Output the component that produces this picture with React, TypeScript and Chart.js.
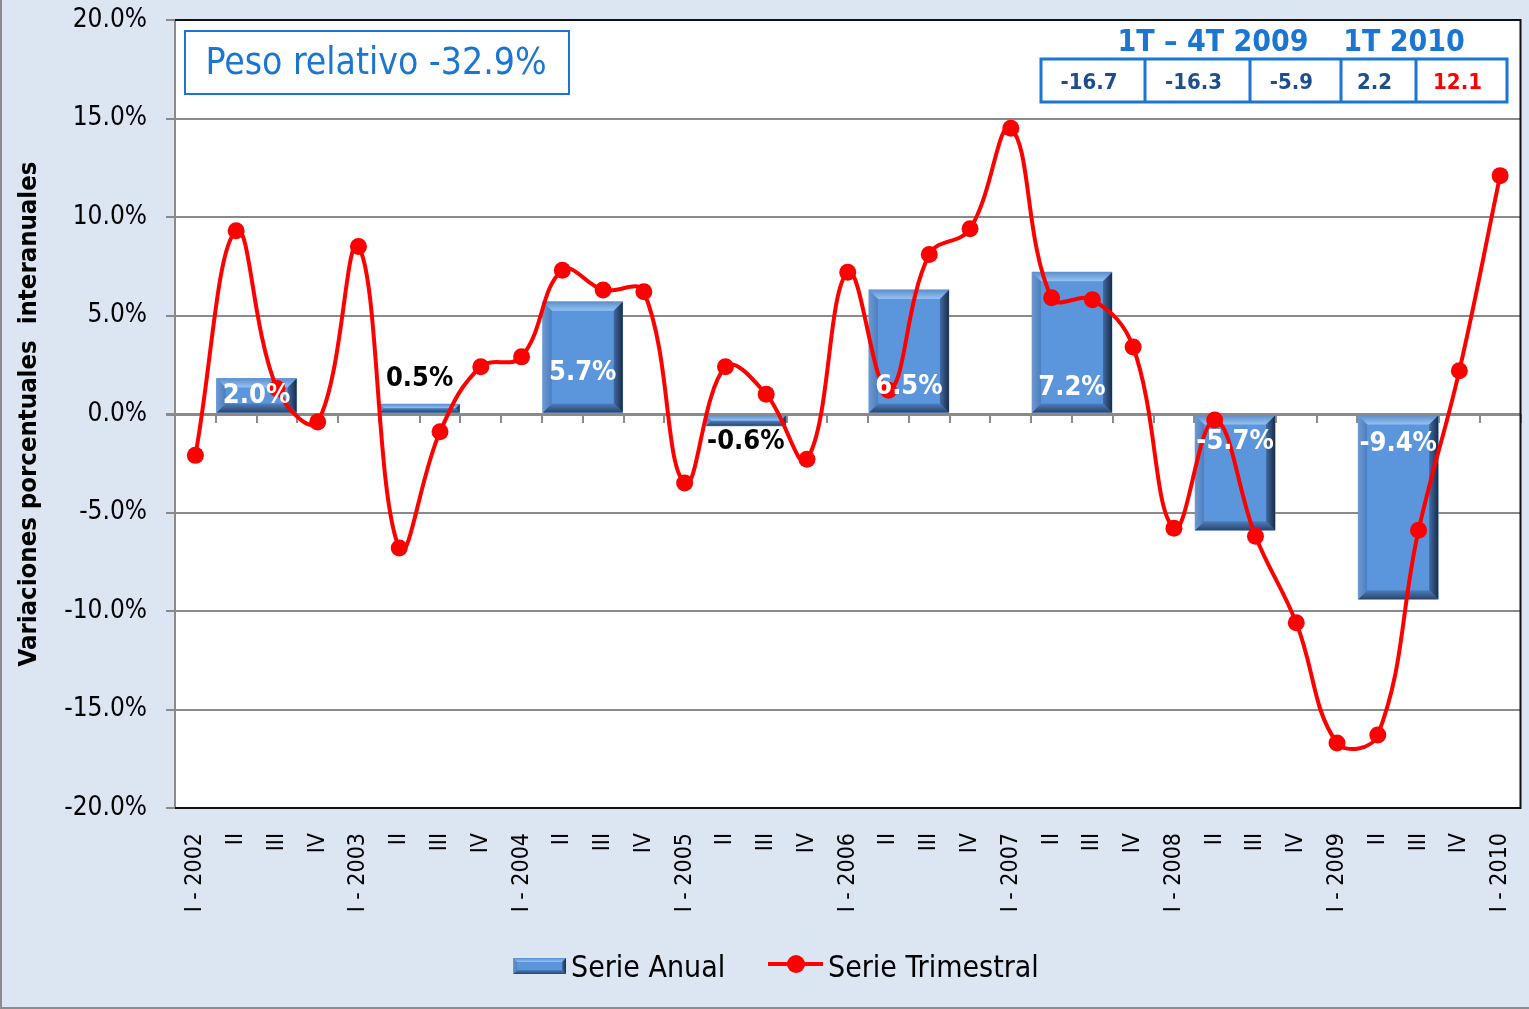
import React, { useEffect, useRef } from 'react';
import { Chart, registerables } from 'chart.js';

Chart.register(...registerables);

const FONT = "'DejaVu Sans Condensed', 'DejaVu Sans', sans-serif";

// ---- data ----
const quarterLabels = [
  'I - 2002', 'II', 'III', 'IV',
  'I - 2003', 'II', 'III', 'IV',
  'I - 2004', 'II', 'III', 'IV',
  'I - 2005', 'II', 'III', 'IV',
  'I - 2006', 'II', 'III', 'IV',
  'I - 2007', 'II', 'III', 'IV',
  'I - 2008', 'II', 'III', 'IV',
  'I - 2009', 'II', 'III', 'IV',
  'I - 2010',
];

const trimestralValues = [
  -2.1, 9.3, 1.3, -0.4,
  8.5, -6.8, -0.9, 2.4,
  2.9, 7.3, 6.3, 6.2,
  -3.5, 2.4, 1.0, -2.3,
  7.2, 1.2, 8.1, 9.4,
  14.5, 5.9, 5.8, 3.4,
  -5.8, -0.3, -6.2, -10.6,
  -16.7, -16.3, -5.9, 2.2,
  12.1,
];

const annualYears = ['2002', '2003', '2004', '2005', '2006', '2007', '2008', '2009'];
const annualValues = [1.8, 0.5, 5.7, -0.6, 6.3, 7.2, -5.9, -9.4];
const annualLabelTexts = ['2.0%', '0.5%', '5.7%', '-0.6%', '6.5%', '7.2%', '-5.7%', '-9.4%'];
// where each bar label sits (in axis units) and whether it is inside the bar
const annualLabelAnchor = [0.9, 1.8, 2.1, -1.4, 1.35, 1.3, -1.4, -1.5];
const annualLabelInside = [true, false, true, false, true, true, true, true];

const yMin = -20;
const yMax = 20;
const yStep = 5;

const pesoRelativoText = 'Peso relativo -32.9%';
const tableHeaders = ['1T – 4T 2009', '1T 2010'];
const tableValues = ['-16.7', '-16.3', '-5.9', '2.2', '12.1'];
const tableValueColors = ['#1d4f8e', '#1d4f8e', '#1d4f8e', '#1d4f8e', '#ff0000'];

const legendLabels = ['Serie Anual', 'Serie Trimestral'];
const yTitle = 'Variaciones porcentuales  interanuales';

// ---- styles ----
const BG = '#dce6f2';
const GRID = '#8a8a8a';
const RED = '#ff0000';
const BLUE_TXT = '#1a76d2';

function fillPoly(ctx: CanvasRenderingContext2D, pts: number[][], style: any) {
  ctx.beginPath();
  ctx.moveTo(pts[0][0], pts[0][1]);
  for (let i = 1; i < pts.length; i++) ctx.lineTo(pts[i][0], pts[i][1]);
  ctx.closePath();
  ctx.fillStyle = style;
  ctx.fill();
}

function drawBevelBar(ctx: CanvasRenderingContext2D, l: number, t: number, r: number, b: number, bev: number) {
  const w = r - l;
  const h = b - t;
  if (w <= 0 || h <= 0) return;
  const e = Math.max(1, Math.min(bev, h / 2, w / 2));
  ctx.fillStyle = '#5b96dc';
  ctx.fillRect(l, t, w, h);
  let g = ctx.createLinearGradient(0, t, 0, t + e);
  g.addColorStop(0, '#5f8fcb');
  g.addColorStop(1, '#93c2f4');
  fillPoly(ctx, [[l, t], [r, t], [r - e, t + e], [l + e, t + e]], g);
  g = ctx.createLinearGradient(0, b, 0, b - e);
  g.addColorStop(0, '#2b4468');
  g.addColorStop(1, '#4d7fc0');
  fillPoly(ctx, [[l, b], [r, b], [r - e, b - e], [l + e, b - e]], g);
  g = ctx.createLinearGradient(l, 0, l + e, 0);
  g.addColorStop(0, '#6f98cc');
  g.addColorStop(1, '#4a7ec2');
  fillPoly(ctx, [[l, t], [l + e, t + e], [l + e, b - e], [l, b]], g);
  g = ctx.createLinearGradient(r, 0, r - e, 0);
  g.addColorStop(0, '#1b2c45');
  g.addColorStop(1, '#3f6ba6');
  fillPoly(ctx, [[r, t], [r - e, t + e], [r - e, b - e], [r, b]], g);
}

const decorPlugin = {
  id: 'decor',
  beforeDraw(chart: any) {
    const { ctx, width, height, chartArea: a } = chart;
    ctx.save();
    ctx.fillStyle = BG;
    ctx.fillRect(0, 0, width, height);
    ctx.fillStyle = '#ffffff';
    ctx.fillRect(a.left, a.top, a.right - a.left, a.bottom - a.top);
    ctx.strokeStyle = '#8c8c8c';
    ctx.lineWidth = 2;
    ctx.beginPath();
    ctx.moveTo(1, 0);
    ctx.lineTo(1, height - 1);
    ctx.lineTo(width, height - 1);
    ctx.stroke();
    ctx.restore();
  },
  afterDatasetDraw(chart: any, args: any) {
    if (args.index !== 0) return;
    const { ctx } = chart;
    ctx.save();
    args.meta.data.forEach((el: any) => {
      const l = el.x - el.width / 2;
      const r = el.x + el.width / 2;
      const t = Math.min(el.y, el.base);
      const b = Math.max(el.y, el.base);
      drawBevelBar(ctx, l, t, r, b, 9);
    });
    ctx.restore();
  },
  afterDatasetsDraw(chart: any) {
    const { ctx } = chart;
    const yScale = chart.scales.y;
    const meta = chart.getDatasetMeta(0);
    ctx.save();
    ctx.font = `bold 27px ${FONT}`;
    ctx.textAlign = 'center';
    ctx.textBaseline = 'middle';
    meta.data.forEach((el: any, i: number) => {
      ctx.fillStyle = annualLabelInside[i] ? '#ffffff' : '#000000';
      ctx.fillText(annualLabelTexts[i], el.x, yScale.getPixelForValue(annualLabelAnchor[i]));
    });
    ctx.restore();
  },
  afterDraw(chart: any) {
    const { ctx, chartArea: a } = chart;
    ctx.save();
    // plot frame (top, right, bottom)
    ctx.strokeStyle = '#111111';
    ctx.lineWidth = 2;
    ctx.beginPath();
    ctx.moveTo(a.left, a.top);
    ctx.lineTo(a.right, a.top);
    ctx.lineTo(a.right, a.bottom);
    ctx.lineTo(a.left, a.bottom);
    ctx.stroke();

    // "Peso relativo" box
    ctx.fillStyle = '#ffffff';
    ctx.fillRect(185, 31, 384, 63);
    ctx.strokeStyle = BLUE_TXT;
    ctx.lineWidth = 2;
    ctx.strokeRect(185, 31, 384, 63);
    ctx.fillStyle = BLUE_TXT;
    ctx.font = `37px ${FONT}`;
    ctx.textAlign = 'center';
    ctx.textBaseline = 'middle';
    ctx.fillText(pesoRelativoText, 376, 64);

    // table
    ctx.font = `bold 30px ${FONT}`;
    ctx.fillStyle = BLUE_TXT;
    ctx.fillText(tableHeaders[0], 1213, 43);
    ctx.fillText(tableHeaders[1], 1404, 43);
    const edges = [1041, 1145, 1250, 1341, 1416, 1507];
    const top = 59;
    const bottom = 102;
    ctx.strokeStyle = BLUE_TXT;
    ctx.lineWidth = 3;
    ctx.strokeRect(edges[0], top, edges[edges.length - 1] - edges[0], bottom - top);
    ctx.beginPath();
    for (let i = 1; i < edges.length - 1; i++) {
      ctx.moveTo(edges[i], top);
      ctx.lineTo(edges[i], bottom);
    }
    ctx.stroke();
    ctx.font = `bold 22px ${FONT}`;
    tableValues.forEach((v, i) => {
      ctx.fillStyle = tableValueColors[i];
      ctx.fillText(v, (edges[i] + edges[i + 1]) / 2 - 4, (top + bottom) / 2 + 3);
    });

    // legend
    drawBevelBar(ctx, 513, 958, 566, 974, 4);
    ctx.font = `30px ${FONT}`;
    ctx.fillStyle = '#000000';
    ctx.textAlign = 'left';
    ctx.textBaseline = 'alphabetic';
    ctx.fillText(legendLabels[0], 571, 977);
    ctx.strokeStyle = RED;
    ctx.lineWidth = 4;
    ctx.beginPath();
    ctx.moveTo(768, 964);
    ctx.lineTo(823, 964);
    ctx.stroke();
    ctx.fillStyle = RED;
    ctx.beginPath();
    ctx.arc(796, 964, 9, 0, Math.PI * 2);
    ctx.fill();
    ctx.fillStyle = '#000000';
    ctx.fillText(legendLabels[1], 828, 977);
    ctx.restore();
  },
};

export default function App() {
  const ref = useRef<HTMLCanvasElement | null>(null);

  useEffect(() => {
    document.body.style.margin = '0';
    const canvas = ref.current;
    if (!canvas) return;

    const barData = annualYears.map((yr, i) => ({
      x: quarterLabels.indexOf('I - ' + yr) + 1.5,
      y: annualValues[i],
    }));

    const chart = new Chart(canvas, {
      type: 'line',
      data: {
        labels: quarterLabels,
        datasets: [
          {
            type: 'bar',
            label: legendLabels[0],
            data: barData as any,
            xAxisID: 'xb',
            yAxisID: 'y',
            backgroundColor: '#5b96dc',
            borderWidth: 0,
            barThickness: 80,
            grouped: false,
            order: 1,
          } as any,
          {
            type: 'line',
            label: legendLabels[1],
            data: trimestralValues,
            xAxisID: 'x',
            yAxisID: 'y',
            borderColor: RED,
            backgroundColor: RED,
            borderWidth: 4,
            pointRadius: 8.5,
            pointBackgroundColor: RED,
            pointBorderWidth: 0,
            tension: 0.4,
            fill: false,
            order: 0,
          },
        ],
      },
      options: {
        responsive: false,
        animation: false,
        devicePixelRatio: 1,
        layout: { padding: { top: 20, right: 7, bottom: 0, left: 0 } },
        plugins: {
          legend: { display: false },
          tooltip: { enabled: false },
          title: { display: false },
        },
        scales: {
          x: {
            type: 'category',
            position: 'bottom',
            offset: true,
            grid: { display: false, drawTicks: false },
            border: { display: true, color: '#111111', width: 2 },
            ticks: {
              autoSkip: false,
              maxRotation: 90,
              minRotation: 90,
              padding: 25,
              color: '#000000',
              font: { family: FONT, size: 23 },
            },
            afterFit: (s: any) => {
              s.height = 201;
              s.paddingLeft = 0;
              s.paddingRight = 0;
            },
          },
          x0: {
            type: 'category',
            axis: 'x',
            position: { y: 0 },
            offset: true,
            grid: {
              offset: true,
              drawOnChartArea: false,
              drawTicks: true,
              tickLength: 9,
              color: GRID,
              lineWidth: 2,
            },
            ticks: { display: false },
            border: { display: false },
          },
          xb: {
            type: 'linear',
            axis: 'x',
            display: false,
            min: -0.5,
            max: quarterLabels.length - 0.5,
            offset: false,
          },
          y: {
            type: 'linear',
            position: 'left',
            min: yMin,
            max: yMax,
            ticks: {
              stepSize: yStep,
              padding: 19,
              color: '#000000',
              font: { family: FONT, size: 26 },
              callback: (v: any) => Number(v).toFixed(1) + '%',
            },
            grid: {
              color: GRID,
              lineWidth: (c: any) => (c.tick && c.tick.value === 0 ? 3 : 2),
              drawTicks: true,
              tickLength: 9,
            },
            border: { display: true, color: GRID, width: 2 },
            title: {
              display: true,
              text: yTitle,
              color: '#000000',
              font: { family: FONT, size: 25.5, weight: 'bold' },
              padding: { top: 14, bottom: 0 },
            },
            afterFit: (s: any) => {
              s.width = 175;
              s.paddingTop = 0;
              s.paddingBottom = 0;
            },
          },
        } as any,
      },
      plugins: [decorPlugin],
    });

    return () => chart.destroy();
  }, []);

  return (
    <div style={{ width: 1529, height: 1009, position: 'relative' }}>
      <canvas ref={ref} width={1529} height={1009} style={{ display: 'block' }} />
    </div>
  );
}
